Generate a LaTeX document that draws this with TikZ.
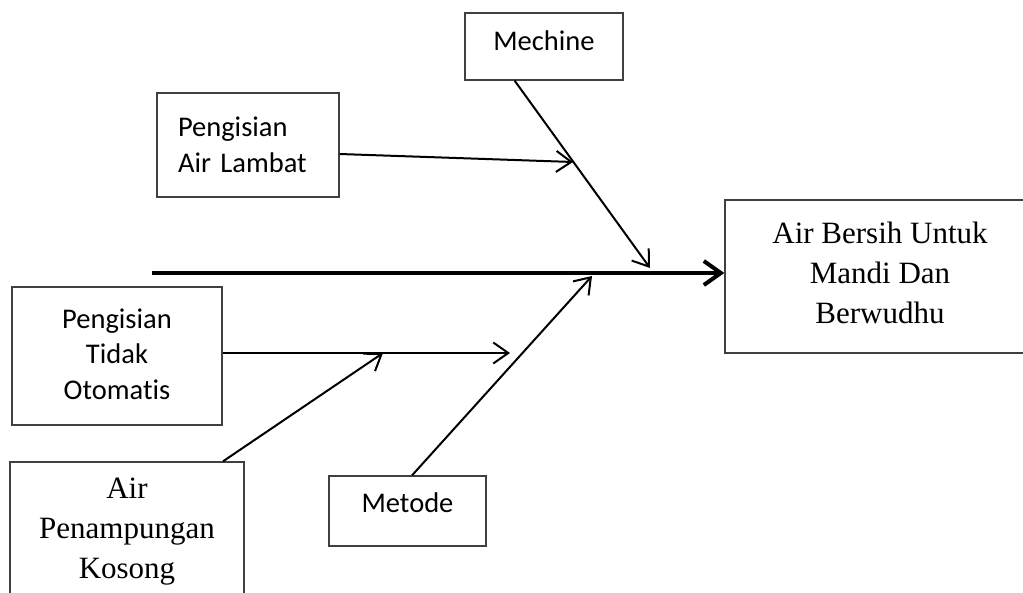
\documentclass[tikz,border=0pt]{standalone}
\usepackage{fontspec}
\setmainfont{Liberation Serif}
\newfontfamily\calfont[Ligatures=NoCommon]{Carlito}
\usetikzlibrary{arrows.meta,calc}
\begin{document}
\begin{tikzpicture}[x=1pt,y=-1pt,
 box/.style={draw=black!75, line width=1.4pt, inner sep=0pt},
 sans/.style={font=\calfont\fontsize{28.5}{35.5}\selectfont},
 serif/.style={font=\fontsize{31}{40}\selectfont},
 bone/.style={line width=2pt, -{Straight Barb[length=15pt,width=21pt]}},
 spine/.style={line width=4pt, -{Straight Barb[length=17pt,width=24pt]}}]
\clip (0,0) rectangle (1023,592);
\fill[white] (0,0) rectangle (1023,592);

\node[box,sans,minimum width=158pt,minimum height=67pt,text depth=11pt] (mech) at (544,46.5) {Mechine};
\node[box,sans,minimum width=182pt,minimum height=104pt,text width=140pt,align=left] (lambat) at (248,145) {Pengisian\\Air Lambat};
\node[box,serif,minimum width=310pt,minimum height=153pt,align=center,text depth=8pt] (goal) at (880,276.5) {Air Bersih Untuk\\Mandi Dan\\Berwudhu};
\node[box,sans,minimum width=210pt,minimum height=138pt,align=center,text depth=4pt] (tidak) at (117,356) {Pengisian\\Tidak\\Otomatis};
\node[box,serif,minimum width=234pt,minimum height=140pt,align=center] (tampung) at (127,532) {Air\\Penampungan\\Kosong};
\node[box,sans,minimum width=157pt,minimum height=70pt,text depth=16pt] (metode) at (407.5,511) {Metode};

\coordinate (s0) at (152,273);
\coordinate (m1) at (650,268);
\coordinate (l1) at (573,162);
\coordinate (t1) at (510,353);
\coordinate (p1) at (383,353);
\coordinate (d1) at (592,276);

\draw[spine] (s0) -- (goal.west |- s0);
\draw[bone] ($(mech.south west)!0.316!(mech.south east)$) -- (m1);
\draw[bone] ($(lambat.east)+(0,9)$) -- (l1);
\draw[bone] ($(tidak.east)+(0,-3)$) -- (t1);
\draw[bone] ($(tampung.north west)!0.908!(tampung.north east)$) -- (p1);
\draw[bone] ($(metode.north west)!0.529!(metode.north east)$) -- (d1);
\end{tikzpicture}
\end{document}
